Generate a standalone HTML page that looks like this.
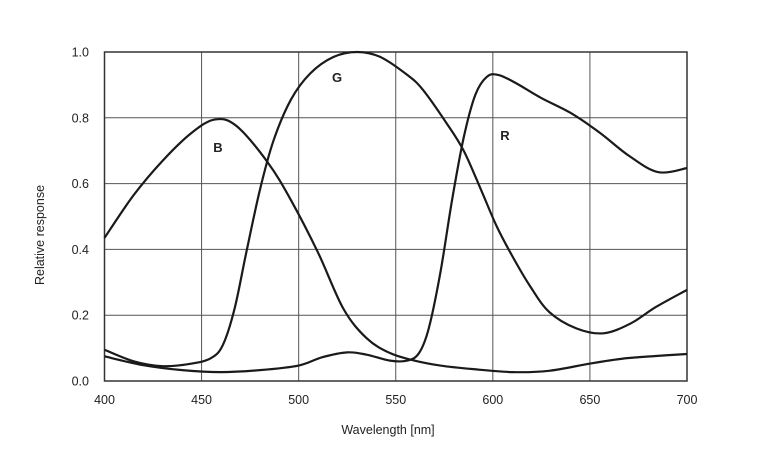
<!DOCTYPE html>
<html><head><meta charset="utf-8"><style>
body{margin:0;background:#fff;width:757px;height:465px;overflow:hidden}
svg{display:block;font-family:"Liberation Sans",Arial,sans-serif}
</style></head><body>
<svg id="chart" width="757" height="465">
<g id="grid"></g>
<g id="axes"></g>
<g id="series"></g>
<text x="388" y="434" font-size="12.5" text-anchor="middle" fill="#222">Wavelength [nm]</text>
<text transform="translate(44,235) rotate(-90)" font-size="12.5" text-anchor="middle" fill="#222">Relative response</text>
</svg>
<script>
const xTicks=[400,450,500,550,600,650,700];
const yTicks=[0,0.2,0.4,0.6,0.8,1.0];
const yTickLabels=["0.0","0.2","0.4","0.6","0.8","1.0"];
const bWl=[400,415,430,445,457,468,484,496,510,523,535,547,559,573,590,610,629,650,667,684,700];
const bVal=[0.435,0.565,0.67,0.755,0.795,0.775,0.665,0.55,0.39,0.22,0.13,0.085,0.063,0.047,0.036,0.027,0.031,0.053,0.068,0.076,0.082];
const gWl=[400,415,430,445,455,461,467,473,480,487,496,506,518,530,542,556,564,576,585,594,602,610,619,629,643,657,671,684,700];
const gVal=[0.095,0.06,0.045,0.053,0.07,0.11,0.22,0.39,0.58,0.73,0.855,0.935,0.985,1.0,0.985,0.93,0.885,0.785,0.70,0.58,0.47,0.38,0.29,0.21,0.16,0.145,0.175,0.225,0.277];
const rWl=[400,420,440,460,480,500,512,525,535,547,556,562,567,573,579,585,591,597,603,612,625,640,655,670,685,700];
const rVal=[0.075,0.048,0.033,0.027,0.033,0.047,0.072,0.087,0.08,0.062,0.062,0.085,0.16,0.33,0.55,0.74,0.87,0.925,0.93,0.905,0.86,0.815,0.755,0.685,0.635,0.647];
const seriesNames=["B","G","R"];
const labelPos=[[218,152],[337,82],[505,140]];

const X0=104.5,X1=687,Y0=381,Y1=52;
const xs=v=>X0+(v-400)/300*(X1-X0);
const ys=v=>Y0-v*(Y0-Y1);
const NS="http://www.w3.org/2000/svg";
function mk(t,p,a){const e=document.createElementNS(NS,t);for(const k in a)e.setAttribute(k,a[k]);p.appendChild(e);return e;}
const grid=document.getElementById('grid'),axes=document.getElementById('axes'),ser=document.getElementById('series');
xTicks.forEach(t=>{
 const l=mk('line',grid,{x1:xs(t),x2:xs(t),y1:Y1,y2:Y0,stroke:'#555','stroke-width':1});
 
 
 const tx=mk('text',axes,{x:xs(t),y:404,'font-size':12.5,'text-anchor':'middle',fill:'#222'});
 tx.textContent=t;
 
 
});
yTicks.forEach((t,i)=>{
 const l=mk('line',grid,{x1:X0,x2:X1,y1:ys(t),y2:ys(t),stroke:'#555','stroke-width':1});
 
 
 const tx=mk('text',axes,{x:89,y:ys(t)+4.5,'font-size':12.5,'text-anchor':'end',fill:'#222'});
 tx.textContent=yTickLabels[i];
 
 
});
const fr=mk('rect',axes,{x:X0,y:Y1,width:X1-X0,height:Y0-Y1,fill:'none',stroke:'#333','stroke-width':1.5});


function path(wl,v){
 const p=wl.map((w,i)=>[xs(w),ys(v[i])]);
 let d='M'+p[0][0]+','+p[0][1];
 for(let i=0;i<p.length-1;i++){
  const a=p[Math.max(0,i-1)],b=p[i],c=p[i+1],e=p[Math.min(p.length-1,i+2)];
  const c1=[b[0]+(c[0]-a[0])/6,b[1]+(c[1]-a[1])/6],c2=[c[0]-(e[0]-b[0])/6,c[1]-(e[1]-b[1])/6];
  d+=' C'+c1+' '+c2+' '+c;
 }
 return d;
}
[[bWl,bVal],[gWl,gVal],[rWl,rVal]].forEach((s,i)=>{
 const pa=mk('path',ser,{d:path(s[0],s[1]),fill:'none',stroke:'#1a1a1a','stroke-width':2.2,'stroke-linejoin':'round'});
 
 
 const t=mk('text',ser,{x:labelPos[i][0],y:labelPos[i][1],'font-size':13,'font-weight':'bold','text-anchor':'middle',fill:'#222'});
 t.textContent=seriesNames[i];
 
 
});
</script>
</body></html>
